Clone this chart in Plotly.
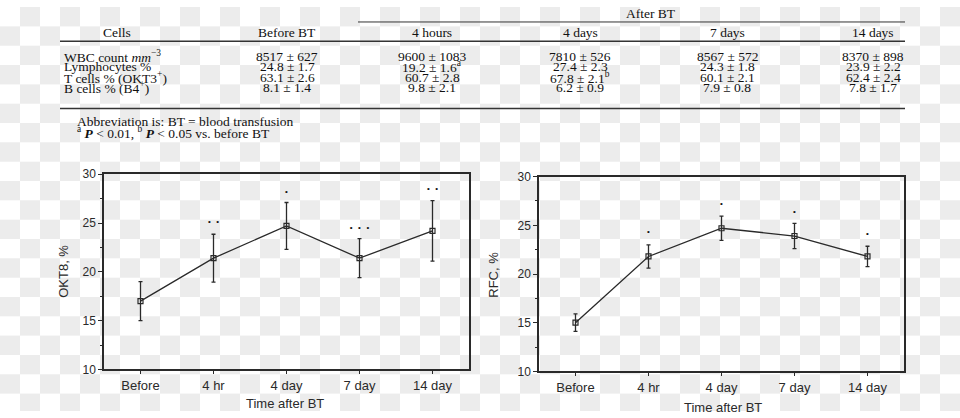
import base64
import struct
import zlib
import plotly.graph_objects as go

# ---------------- data ----------------
categories = ["Before", "4 hr", "4 day", "7 day", "14 day"]

okt8_mean = [17.0, 21.4, 24.7, 21.4, 24.2]
okt8_sd = [2.0, 2.45, 2.4, 2.0, 3.1]
okt8_sig = ["", "• •", "•", "• • •", "• •"]
okt8_sig_y = [None, 25.1, 28.2, 24.5, 28.5]

rfc_mean = [15.0, 21.8, 24.7, 23.9, 21.8]
rfc_sd = [0.9, 1.2, 1.25, 1.3, 1.05]
rfc_sig = ["", "•", "•", "•", "•"]
rfc_sig_y = [None, 24.35, 27.2, 26.4, 24.1]

y_ticks = [10, 15, 20, 25, 30]

table_cols = ["Before BT", "4 hours", "4 days", "7 days", "14 days"]
row_labels = ["WBC count <i>mm</i><sup>−3</sup>", "Lymphocytes %",
              "T cells % (OKT3<sup>+</sup>)", "B cells % (B4<sup>+</sup>)"]
col_before = ["8517 ± 627", "24.8 ± 1.7", "63.1 ± 2.6", "8.1 ± 1.4"]
col_4h = ["9600 ± 1083", "19.2 ± 1.6<sup>a</sup>", "60.7 ± 2.8", "9.8 ± 2.1"]
col_4d = ["7810 ± 526", "27.4 ± 2.3", "67.8 ± 2.1<sup>b</sup>", "6.2 ± 0.9"]
col_7d = ["8567 ± 572", "24.3 ± 1.8", "60.1 ± 2.1", "7.9 ± 0.8"]
col_14d = ["8370 ± 898", "23.9 ± 2.2", "62.4 ± 2.4", "7.8 ± 1.7"]
table_values = [col_before, col_4h, col_4d, col_7d, col_14d]
footnotes = ["Abbreviation is: BT = blood transfusion",
             "<sup>a</sup> <b><i>P</i></b> < 0.01, <sup>b</sup> <b><i>P</i></b> < 0.05 vs. before BT"]

# ---------------- layout helpers ----------------
W, H = 960, 418
def px(x):
    return x / W
def py(y):
    return 1 - y / H

SANS = "Liberation Sans, Arial, sans-serif"
SERIF = "Liberation Serif, Times New Roman, serif"
INK = "#2a2a2a"

fig = go.Figure()

def add_panel(xa, ya, mean, sd, sig, sig_y):
    fig.add_trace(go.Scatter(
        x=categories, y=mean, xaxis=xa, yaxis=ya, mode="lines+markers",
        line=dict(color=INK, width=1.3),
        marker=dict(symbol="square-open", size=5, color=INK, line=dict(width=1.2, color=INK)),
        error_y=dict(type="data", array=sd, visible=True, color=INK, thickness=1.3, width=2),
        hoverinfo="skip", showlegend=False))
    keep = [i for i, s in enumerate(sig) if s]
    fig.add_trace(go.Scatter(
        x=[categories[i] for i in keep], y=[sig_y[i] for i in keep],
        xaxis=xa, yaxis=ya, mode="text",
        text=[sig[i].replace(" ", "\u2002\u2009") for i in keep],
        textfont=dict(size=8, color="#111", family=SANS),
        hoverinfo="skip", showlegend=False))

add_panel("x", "y", okt8_mean, okt8_sd, okt8_sig, okt8_sig_y)
add_panel("x2", "y2", rfc_mean, rfc_sd, rfc_sig, rfc_sig_y)

axis_common = dict(showline=True, linecolor=INK, linewidth=1.5, mirror=True,
                   showgrid=False, zeroline=False, ticks="outside", ticklen=3,
                   tickcolor=INK, tickwidth=1, tickfont=dict(family=SANS, size=13, color=INK))
xcommon = dict(axis_common, type="category", range=[-0.5, 4.5])
ycommon = dict(axis_common, range=[10, 30], tickvals=y_ticks,
               tickfont=dict(family=SANS, size=12, color=INK), ticklen=4,
               minor=dict(ticks="outside", ticklen=2, dtick=2.5, tickcolor=INK, tickwidth=1))

fig.update_layout(
    xaxis=dict(xcommon, domain=[px(104), px(469)], anchor="y"),
    yaxis=dict(ycommon, domain=[py(375), py(173)], anchor="x"),
    xaxis2=dict(xcommon, domain=[px(539), px(904)], anchor="y2"),
    yaxis2=dict(ycommon, domain=[py(377), py(175.5)], anchor="x2"),
)

# checkerboard backdrop (transparent-background look of the reference), as a PNG
def checker_png(w, h, s, c1, c2):
    rowA = bytearray([0])
    rowB = bytearray([0])
    for x in range(w):
        a, b = (c1, c2) if (x // s) % 2 == 0 else (c2, c1)
        rowA += bytes(a)
        rowB += bytes(b)
    raw = b"".join(bytes(rowA) if (y // s) % 2 == 0 else bytes(rowB) for y in range(h))
    def chunk(t, d):
        return struct.pack(">I", len(d)) + t + d + struct.pack(">I", zlib.crc32(t + d) & 0xffffffff)
    return (b"\x89PNG\r\n\x1a\n"
            + chunk(b"IHDR", struct.pack(">IIBBBBB", w, h, 8, 2, 0, 0, 0))
            + chunk(b"IDAT", zlib.compress(raw, 9))
            + chunk(b"IEND", b""))

png = checker_png(W, H, 20, (255, 255, 255), (236, 236, 236))
src = "data:image/png;base64," + base64.b64encode(png).decode()
fig.add_layout_image(dict(source=src, xref="paper", yref="paper", x=0, y=1,
                          sizex=1, sizey=1, sizing="stretch", xanchor="left",
                          yanchor="top", layer="below"))

ann = []
def text(x, y, t, font, size, xanchor="center", color="#111", angle=0):
    ann.append(dict(x=px(x), y=py(y), xref="paper", yref="paper", text=t,
                    showarrow=False, xanchor=xanchor, yanchor="middle", textangle=angle,
                    font=dict(family=font, size=size, color=color)))

# axis titles
text(64, 274, "OKT8, %", SANS, 13, color=INK, angle=-90)
text(494, 277, "RFC, %", SANS, 13, color=INK, angle=-90)
text(285, 410, "Time after BT", SANS, 13, color=INK)
text(723, 414, "Time after BT", SANS, 13, color=INK)

# table
col_x = [287, 432, 580, 727, 873]
row_y = [51.5, 62, 72.5, 83]
TS = 13.5
text(651, 7, "After BT", SERIF, TS)
text(117, 26, "Cells", SERIF, TS)
for cx, name in zip(col_x, table_cols):
    text(cx, 26, name, SERIF, TS)
for ry, lab in zip(row_y, row_labels):
    text(62, ry, lab, SERIF, TS, xanchor="left")
for cx, vals in zip(col_x, table_values):
    for ry, v in zip(row_y, vals):
        text(cx, ry, v, SERIF, TS)
text(75, 118, footnotes[0], SERIF, TS, xanchor="left")
text(75, 130, footnotes[1], SERIF, TS, xanchor="left")

shapes = []
def hline(x0, x1, y, w=1.3):
    shapes.append(dict(type="line", xref="paper", yref="paper", x0=px(x0), x1=px(x1),
                       y0=py(y), y1=py(y), line=dict(color="#333", width=w)))
hline(358, 905, 15.5, 1)
hline(60, 905, 35.5, 1.5)
hline(60, 905, 105, 1.5)

fig.update_layout(width=W, height=H, margin=dict(l=0, r=0, t=0, b=0),
                  paper_bgcolor="white", plot_bgcolor="rgba(0,0,0,0)",
                  annotations=ann, shapes=shapes, showlegend=False)

fig.write_html("out.html", config={"displayModeBar": False},
               post_script="document.body.style.margin='0';")
